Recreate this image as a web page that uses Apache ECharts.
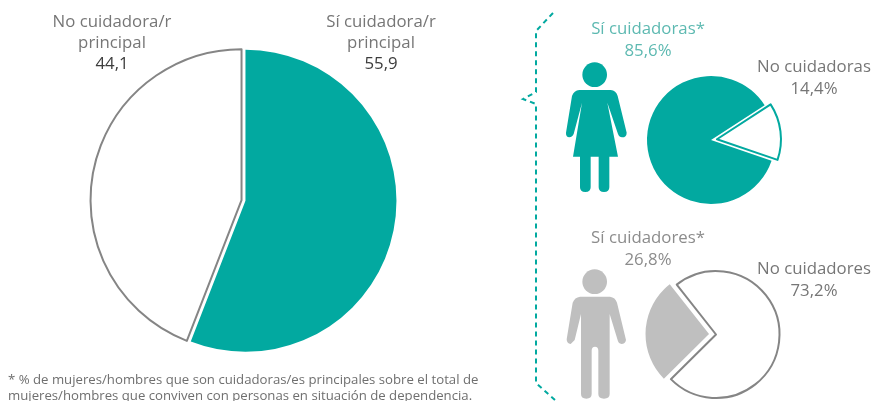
<!DOCTYPE html>
<html><head><meta charset="utf-8">
<style>html,body{margin:0;padding:0;background:#fff}#c{width:874px;height:401px}</style>
<script src="https://cdn.jsdelivr.net/npm/echarts@6/dist/echarts.min.js"></script>
</head><body><div id="c"></div>
<script>
const mainCategories = ['Sí cuidadora/r principal', 'No cuidadora/r principal'];
const mainValues = [55.9, 44.1];
const mujeresCategories = ['No cuidadoras', 'Sí cuidadoras*'];
const mujeresValues = [14.4, 85.6];
const hombresCategories = ['Sí cuidadores*', 'No cuidadores'];
const hombresValues = [26.8, 73.2];
const footnote = ['* % de mujeres/hombres que son cuidadoras/es principales sobre el total de',
                  'mujeres/hombres que conviven con personas en situación de dependencia.'];
const TEAL = '#02a9a0', GREY = '#bfbfbf', LINE = '#858585', TXT = '#767676', DARK = '#3c3c3c', TEALTXT = '#5db9b1';
const FONT = '"Open Sans", sans-serif';

function pie(center, radius, startAngle, offset, names, values, styles, selected) {
  return {
    type: 'pie', center, radius: [0, radius], startAngle, clockwise: true, silent: true,
    animation: false, selectedMode: 'multiple', selectedOffset: offset, avoidLabelOverlap: false,
    label: {show: false}, labelLine: {show: false},
    data: values.map((v, i) => ({name: names[i], value: v, selected: selected[i], itemStyle: styles[i], select: {itemStyle: styles[i]}}))
  };
}
const txt = (s, x, y, fill, size) => ({type: 'text', x, y, silent: true,
  style: {text: s, fill, font: (size || 16.8) + 'px ' + FONT, align: 'center', verticalAlign: 'middle'}});
const left = (s, x, y) => ({type: 'text', x, y, silent: true,
  style: {text: s, fill: '#6f6f6f', font: '13.2px ' + FONT, align: 'left', verticalAlign: 'middle'}});

const womanBody = 'M238 270 L332 270 Q348 272 353 288 L380 398 Q380 412 366 412 Q358 412 354 402 L322 308 L354 470 L328 470 L328 562 Q328 576 312 576 Q296 576 296 562 L296 470 L272 470 L272 562 Q272 576 256 576 Q240 576 240 562 L240 470 L219 470 L246 308 L221 402 Q216 412 208 412 Q197 410 198 398 L216 288 Q222 272 238 270 Z';
const manBody = 'M240 290 L330 290 Q346 292 351 308 L378 420 Q376 432 364 432 Q356 432 354 424 L329 342 L329 582 Q329 596 312 596 Q295 596 295 582 L295 452 Q295 440 285 440 Q275 440 275 452 L275 582 Q275 596 259 596 Q243 596 243 582 L243 342 L224 420 L212 432 Q200 430 200 418 L218 308 Q224 292 240 290 Z';
echarts.graphic.registerShape('womanBody', echarts.graphic.extendPath(womanBody));
echarts.graphic.registerShape('manBody', echarts.graphic.extendPath(manBody));

const chart = echarts.init(document.getElementById('c'), null, {renderer: 'canvas'});
chart.setOption({
  animation: false,
  backgroundColor: '#fff',
  series: [
    pie([243.5, 200.5], 151, 90, 2, mainCategories, mainValues,
      [{color: TEAL}, {color: '#fff', borderColor: LINE, borderWidth: 2}], [true, true]),
    pie([711, 140], 64, 33, 6, mujeresCategories, mujeresValues,
      [{color: '#fff', borderColor: TEAL, borderWidth: 2}, {color: TEAL}], [true, false]),
    pie([716, 334.5], 63.5, -135.3, 7, hombresCategories, hombresValues,
      [{color: GREY}, {color: '#fff', borderColor: LINE, borderWidth: 2}], [true, false])
  ],
  graphic: [
    txt('No cuidadora/r', 112, 22, TXT), txt('principal', 112, 43, TXT), txt(String(mainValues[1]).replace('.', ','), 112, 64, DARK),
    txt('Sí cuidadora/r', 381, 22, TXT), txt('principal', 381, 43, TXT), txt(String(mainValues[0]).replace('.', ','), 381, 64, DARK),
    txt(mujeresCategories[1], 648, 29, TEALTXT), txt('85,6%', 648, 51.5, TEALTXT),
    txt(mujeresCategories[0], 814, 67, TXT), txt('14,4%', 814, 89, TXT),
    txt(hombresCategories[0], 648, 238, '#8c8c8c'), txt('26,8%', 648, 260.5, '#8c8c8c'),
    txt(hombresCategories[1], 814, 269, TXT), txt('73,2%', 814, 291, TXT),
    left(footnote[0], 8, 380), left(footnote[1], 8, 396),
    {type: 'polyline', silent: true, shape: {points: [[553, 13], [536, 31], [536, 92], [523, 99], [536, 104], [536, 383], [556, 401]]},
     style: {stroke: TEAL, lineWidth: 2, lineDash: [5, 4], fill: null}},
    {type: 'group', x: 500, y: 0, scaleX: 1/3, scaleY: 1/3, silent: true, children: [
      {type: 'circle', shape: {cx: 284, cy: 224, r: 37}, style: {fill: TEAL}},
      {type: 'womanBody', style: {fill: TEAL}}
    ]},
    {type: 'group', x: 500, y: 200, scaleX: 1/3, scaleY: 1/3, silent: true, children: [
      {type: 'circle', shape: {cx: 284, cy: 245, r: 37}, style: {fill: GREY}},
      {type: 'manBody', style: {fill: GREY}}
    ]}
  ]
});
</script></body></html>
